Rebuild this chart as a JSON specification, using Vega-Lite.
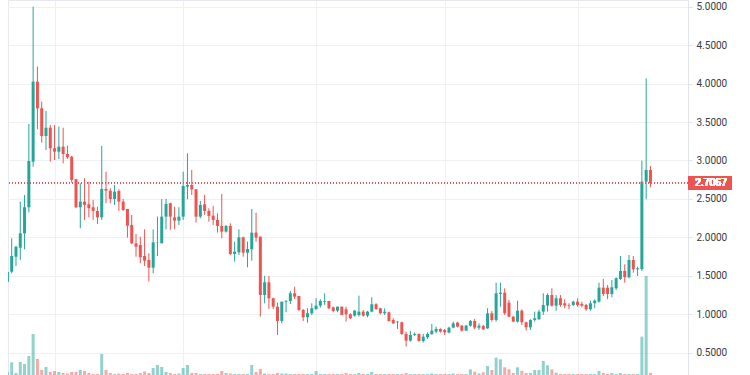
{
  "$schema": "https://vega.github.io/schema/vega-lite/v6.json",
  "width": 680,
  "height": 375,
  "autosize": "none",
  "padding": {"left": 8, "top": 0, "right": 62, "bottom": 0},
  "background": "#ffffff",
  "config": {
    "view": {"stroke": "#e6e9ef"},
    "axis": {"gridColor": "#eef0f4", "gridWidth": 1},
    "scale": {"continuousPadding": 0}
  },
  "datasets": {
    "ohlc": [
      {"d":"2021-03-21","o":1.42,"h":1.56,"l":1.38,"c":1.55,"v":300},
      {"d":"2021-03-22","o":1.553,"h":1.987,"l":1.532,"c":1.757,"v":1270},
      {"d":"2021-03-23","o":1.748,"h":1.887,"l":1.627,"c":1.878,"v":200},
      {"d":"2021-03-24","o":1.865,"h":2.464,"l":1.705,"c":2.052,"v":1300},
      {"d":"2021-03-25","o":2.052,"h":2.551,"l":1.844,"c":2.391,"v":1100},
      {"d":"2021-03-26","o":2.391,"h":3.474,"l":2.325,"c":2.993,"v":1900},
      {"d":"2021-03-27","o":2.984,"h":5.0,"l":2.919,"c":4.025,"v":4100},
      {"d":"2021-03-28","o":4.025,"h":4.22,"l":3.405,"c":3.678,"v":1600},
      {"d":"2021-03-29","o":3.678,"h":3.764,"l":3.231,"c":3.318,"v":500},
      {"d":"2021-03-30","o":3.318,"h":3.643,"l":3.136,"c":3.426,"v":800},
      {"d":"2021-03-31","o":3.426,"h":3.461,"l":2.984,"c":3.158,"v":300},
      {"d":"2021-04-01","o":3.158,"h":3.461,"l":3.006,"c":3.114,"v":400},
      {"d":"2021-04-02","o":3.114,"h":3.439,"l":3.019,"c":3.179,"v":300},
      {"d":"2021-04-03","o":3.179,"h":3.426,"l":2.963,"c":3.084,"v":200},
      {"d":"2021-04-04","o":3.084,"h":3.192,"l":3.019,"c":3.041,"v":150},
      {"d":"2021-04-05","o":3.049,"h":3.06,"l":2.711,"c":2.746,"v":300},
      {"d":"2021-04-06","o":2.755,"h":2.76,"l":2.378,"c":2.391,"v":300},
      {"d":"2021-04-07","o":2.391,"h":2.703,"l":2.117,"c":2.464,"v":500},
      {"d":"2021-04-08","o":2.464,"h":2.768,"l":2.226,"c":2.421,"v":400},
      {"d":"2021-04-09","o":2.43,"h":2.724,"l":2.26,"c":2.378,"v":200},
      {"d":"2021-04-10","o":2.391,"h":2.486,"l":2.226,"c":2.343,"v":100},
      {"d":"2021-04-11","o":2.343,"h":2.399,"l":2.174,"c":2.26,"v":100},
      {"d":"2021-04-12","o":2.26,"h":3.188,"l":2.226,"c":2.629,"v":2100},
      {"d":"2021-04-13","o":2.629,"h":2.854,"l":2.443,"c":2.607,"v":500},
      {"d":"2021-04-14","o":2.607,"h":2.638,"l":2.443,"c":2.499,"v":200},
      {"d":"2021-04-15","o":2.499,"h":2.681,"l":2.421,"c":2.594,"v":100},
      {"d":"2021-04-16","o":2.603,"h":2.625,"l":2.343,"c":2.464,"v":150},
      {"d":"2021-04-17","o":2.464,"h":2.499,"l":2.343,"c":2.356,"v":100},
      {"d":"2021-04-18","o":2.369,"h":2.369,"l":1.996,"c":2.152,"v":200},
      {"d":"2021-04-19","o":2.161,"h":2.291,"l":1.913,"c":1.922,"v":100},
      {"d":"2021-04-20","o":1.922,"h":2.043,"l":1.748,"c":1.878,"v":100},
      {"d":"2021-04-21","o":1.9,"h":2.009,"l":1.662,"c":1.74,"v":200},
      {"d":"2021-04-22","o":1.757,"h":2.104,"l":1.627,"c":1.696,"v":350},
      {"d":"2021-04-23","o":1.705,"h":1.792,"l":1.424,"c":1.605,"v":200},
      {"d":"2021-04-24","o":1.605,"h":2.104,"l":1.532,"c":1.935,"v":700},
      {"d":"2021-04-25","o":1.931,"h":2.269,"l":1.757,"c":1.935,"v":1000},
      {"d":"2021-04-26","o":1.922,"h":2.499,"l":1.922,"c":2.269,"v":800},
      {"d":"2021-04-27","o":2.269,"h":2.499,"l":2.104,"c":2.434,"v":300},
      {"d":"2021-04-28","o":2.443,"h":2.451,"l":2.096,"c":2.269,"v":200},
      {"d":"2021-04-29","o":2.26,"h":2.399,"l":2.104,"c":2.217,"v":100},
      {"d":"2021-04-30","o":2.217,"h":2.391,"l":2.161,"c":2.269,"v":150},
      {"d":"2021-05-01","o":2.269,"h":2.854,"l":2.226,"c":2.668,"v":700},
      {"d":"2021-05-02","o":2.659,"h":3.093,"l":2.495,"c":2.681,"v":1000},
      {"d":"2021-05-03","o":2.681,"h":2.876,"l":2.551,"c":2.625,"v":200},
      {"d":"2021-05-04","o":2.625,"h":2.625,"l":2.191,"c":2.269,"v":200},
      {"d":"2021-05-05","o":2.269,"h":2.473,"l":2.247,"c":2.421,"v":100},
      {"d":"2021-05-06","o":2.43,"h":2.551,"l":2.291,"c":2.343,"v":100},
      {"d":"2021-05-07","o":2.343,"h":2.378,"l":2.204,"c":2.278,"v":100},
      {"d":"2021-05-08","o":2.282,"h":2.412,"l":2.161,"c":2.226,"v":100},
      {"d":"2021-05-09","o":2.226,"h":2.313,"l":2.061,"c":2.148,"v":100},
      {"d":"2021-05-10","o":2.148,"h":2.564,"l":1.987,"c":2.074,"v":400},
      {"d":"2021-05-11","o":2.074,"h":2.161,"l":2.061,"c":2.148,"v":200},
      {"d":"2021-05-12","o":2.148,"h":2.182,"l":1.77,"c":1.783,"v":150},
      {"d":"2021-05-13","o":1.783,"h":1.944,"l":1.683,"c":1.813,"v":100},
      {"d":"2021-05-14","o":1.805,"h":2.104,"l":1.77,"c":2.0,"v":100},
      {"d":"2021-05-15","o":2.0,"h":2.009,"l":1.748,"c":1.8,"v":100},
      {"d":"2021-05-16","o":1.8,"h":1.944,"l":1.61,"c":1.848,"v":100},
      {"d":"2021-05-17","o":1.844,"h":2.369,"l":1.696,"c":2.061,"v":1000},
      {"d":"2021-05-18","o":2.061,"h":2.321,"l":1.944,"c":1.996,"v":300},
      {"d":"2021-05-19","o":2.009,"h":2.009,"l":0.968,"c":1.25,"v":600},
      {"d":"2021-05-20","o":1.25,"h":1.497,"l":1.142,"c":1.415,"v":150},
      {"d":"2021-05-21","o":1.415,"h":1.497,"l":1.068,"c":1.207,"v":100},
      {"d":"2021-05-22","o":1.207,"h":1.215,"l":1.068,"c":1.098,"v":100},
      {"d":"2021-05-23","o":1.098,"h":1.15,"l":0.73,"c":0.912,"v":200},
      {"d":"2021-05-24","o":0.912,"h":1.163,"l":0.881,"c":1.163,"v":150},
      {"d":"2021-05-25","o":1.163,"h":1.185,"l":1.025,"c":1.172,"v":150},
      {"d":"2021-05-26","o":1.172,"h":1.302,"l":1.133,"c":1.272,"v":100},
      {"d":"2021-05-27","o":1.272,"h":1.358,"l":1.198,"c":1.228,"v":100},
      {"d":"2021-05-28","o":1.237,"h":1.237,"l":1.042,"c":1.055,"v":100},
      {"d":"2021-05-29","o":1.055,"h":1.068,"l":0.912,"c":0.96,"v":100},
      {"d":"2021-05-30","o":0.96,"h":1.077,"l":0.89,"c":1.012,"v":100},
      {"d":"2021-05-31","o":1.012,"h":1.142,"l":0.99,"c":1.077,"v":100},
      {"d":"2021-06-01","o":1.068,"h":1.207,"l":1.055,"c":1.111,"v":400},
      {"d":"2021-06-02","o":1.111,"h":1.194,"l":1.085,"c":1.172,"v":100},
      {"d":"2021-06-03","o":1.163,"h":1.272,"l":1.12,"c":1.172,"v":100},
      {"d":"2021-06-04","o":1.172,"h":1.172,"l":1.064,"c":1.077,"v":100},
      {"d":"2021-06-05","o":1.09,"h":1.098,"l":1.025,"c":1.042,"v":100},
      {"d":"2021-06-06","o":1.046,"h":1.098,"l":1.025,"c":1.098,"v":100},
      {"d":"2021-06-07","o":1.098,"h":1.098,"l":0.99,"c":0.99,"v":100},
      {"d":"2021-06-08","o":1.064,"h":1.098,"l":0.903,"c":0.999,"v":200},
      {"d":"2021-06-09","o":0.999,"h":1.012,"l":0.934,"c":0.947,"v":100},
      {"d":"2021-06-10","o":0.981,"h":1.055,"l":0.968,"c":1.046,"v":100},
      {"d":"2021-06-11","o":0.99,"h":1.241,"l":0.968,"c":1.033,"v":200},
      {"d":"2021-06-12","o":1.033,"h":1.055,"l":0.968,"c":0.981,"v":100},
      {"d":"2021-06-13","o":0.981,"h":1.042,"l":0.96,"c":1.033,"v":100},
      {"d":"2021-06-14","o":1.033,"h":1.22,"l":1.025,"c":1.129,"v":300},
      {"d":"2021-06-15","o":1.129,"h":1.142,"l":1.055,"c":1.068,"v":100},
      {"d":"2021-06-16","o":1.077,"h":1.085,"l":0.999,"c":1.012,"v":100},
      {"d":"2021-06-17","o":1.012,"h":1.077,"l":0.99,"c":1.033,"v":100},
      {"d":"2021-06-18","o":1.025,"h":1.033,"l":0.903,"c":0.912,"v":100},
      {"d":"2021-06-19","o":0.925,"h":0.947,"l":0.873,"c":0.881,"v":100},
      {"d":"2021-06-20","o":0.895,"h":0.912,"l":0.808,"c":0.903,"v":100},
      {"d":"2021-06-21","o":0.895,"h":0.903,"l":0.73,"c":0.743,"v":100},
      {"d":"2021-06-22","o":0.743,"h":0.773,"l":0.578,"c":0.656,"v":200},
      {"d":"2021-06-23","o":0.656,"h":0.782,"l":0.643,"c":0.73,"v":100},
      {"d":"2021-06-24","o":0.73,"h":0.764,"l":0.717,"c":0.743,"v":100},
      {"d":"2021-06-25","o":0.743,"h":0.751,"l":0.643,"c":0.651,"v":100},
      {"d":"2021-06-26","o":0.651,"h":0.743,"l":0.63,"c":0.708,"v":100},
      {"d":"2021-06-27","o":0.699,"h":0.764,"l":0.678,"c":0.743,"v":100},
      {"d":"2021-06-28","o":0.743,"h":0.873,"l":0.73,"c":0.786,"v":150},
      {"d":"2021-06-29","o":0.773,"h":0.838,"l":0.751,"c":0.808,"v":100},
      {"d":"2021-06-30","o":0.808,"h":0.816,"l":0.76,"c":0.773,"v":100},
      {"d":"2021-07-01","o":0.795,"h":0.808,"l":0.73,"c":0.764,"v":100},
      {"d":"2021-07-02","o":0.76,"h":0.838,"l":0.751,"c":0.825,"v":100},
      {"d":"2021-07-03","o":0.825,"h":0.903,"l":0.816,"c":0.881,"v":150},
      {"d":"2021-07-04","o":0.89,"h":0.903,"l":0.829,"c":0.838,"v":100},
      {"d":"2021-07-05","o":0.851,"h":0.86,"l":0.773,"c":0.786,"v":100},
      {"d":"2021-07-06","o":0.786,"h":0.86,"l":0.782,"c":0.851,"v":100},
      {"d":"2021-07-07","o":0.851,"h":0.925,"l":0.838,"c":0.912,"v":570},
      {"d":"2021-07-08","o":0.912,"h":0.938,"l":0.803,"c":0.825,"v":330},
      {"d":"2021-07-09","o":0.825,"h":0.881,"l":0.795,"c":0.851,"v":150},
      {"d":"2021-07-10","o":0.847,"h":0.86,"l":0.795,"c":0.803,"v":270},
      {"d":"2021-07-11","o":0.816,"h":1.077,"l":0.808,"c":1.012,"v":900},
      {"d":"2021-07-12","o":1.012,"h":1.042,"l":0.903,"c":0.925,"v":500},
      {"d":"2021-07-13","o":0.925,"h":1.41,"l":0.903,"c":1.272,"v":1730},
      {"d":"2021-07-14","o":1.263,"h":1.41,"l":1.098,"c":1.28,"v":1570},
      {"d":"2021-07-15","o":1.28,"h":1.337,"l":0.99,"c":1.012,"v":770},
      {"d":"2021-07-16","o":1.15,"h":1.185,"l":0.96,"c":0.968,"v":570},
      {"d":"2021-07-17","o":0.968,"h":0.977,"l":0.895,"c":0.903,"v":200},
      {"d":"2021-07-18","o":0.903,"h":1.176,"l":0.89,"c":1.046,"v":770},
      {"d":"2021-07-19","o":1.046,"h":1.064,"l":0.86,"c":0.895,"v":430},
      {"d":"2021-07-20","o":0.895,"h":0.903,"l":0.786,"c":0.829,"v":200},
      {"d":"2021-07-21","o":0.829,"h":0.934,"l":0.795,"c":0.925,"v":200},
      {"d":"2021-07-22","o":0.925,"h":1.033,"l":0.903,"c":0.947,"v":500},
      {"d":"2021-07-23","o":0.934,"h":1.055,"l":0.925,"c":1.033,"v":500},
      {"d":"2021-07-24","o":1.033,"h":1.272,"l":0.99,"c":1.12,"v":1400},
      {"d":"2021-07-25","o":1.111,"h":1.272,"l":1.033,"c":1.25,"v":970},
      {"d":"2021-07-26","o":1.25,"h":1.337,"l":1.098,"c":1.111,"v":570},
      {"d":"2021-07-27","o":1.111,"h":1.25,"l":1.046,"c":1.207,"v":230},
      {"d":"2021-07-28","o":1.207,"h":1.25,"l":1.098,"c":1.12,"v":100},
      {"d":"2021-07-29","o":1.142,"h":1.194,"l":1.077,"c":1.111,"v":100},
      {"d":"2021-07-30","o":1.12,"h":1.142,"l":1.064,"c":1.111,"v":100},
      {"d":"2021-07-31","o":1.12,"h":1.176,"l":1.107,"c":1.163,"v":100},
      {"d":"2021-08-01","o":1.163,"h":1.207,"l":1.098,"c":1.12,"v":100},
      {"d":"2021-08-02","o":1.133,"h":1.163,"l":1.09,"c":1.111,"v":100},
      {"d":"2021-08-03","o":1.12,"h":1.133,"l":1.046,"c":1.064,"v":100},
      {"d":"2021-08-04","o":1.064,"h":1.176,"l":1.046,"c":1.142,"v":100},
      {"d":"2021-08-05","o":1.142,"h":1.194,"l":1.077,"c":1.176,"v":100},
      {"d":"2021-08-06","o":1.163,"h":1.41,"l":1.15,"c":1.345,"v":400},
      {"d":"2021-08-07","o":1.345,"h":1.458,"l":1.237,"c":1.263,"v":200},
      {"d":"2021-08-08","o":1.345,"h":1.38,"l":1.194,"c":1.263,"v":100},
      {"d":"2021-08-09","o":1.263,"h":1.445,"l":1.22,"c":1.35,"v":200},
      {"d":"2021-08-10","o":1.337,"h":1.48,"l":1.315,"c":1.467,"v":100},
      {"d":"2021-08-11","o":1.458,"h":1.757,"l":1.445,"c":1.562,"v":200},
      {"d":"2021-08-12","o":1.562,"h":1.649,"l":1.41,"c":1.48,"v":100},
      {"d":"2021-08-13","o":1.48,"h":1.77,"l":1.467,"c":1.705,"v":100},
      {"d":"2021-08-14","o":1.705,"h":1.757,"l":1.54,"c":1.584,"v":100},
      {"d":"2021-08-15","o":1.584,"h":1.618,"l":1.497,"c":1.597,"v":100},
      {"d":"2021-08-16","o":1.588,"h":2.997,"l":1.562,"c":2.724,"v":3830},
      {"d":"2021-08-17","o":2.724,"h":4.068,"l":2.495,"c":2.876,"v":9900},
      {"d":"2021-08-18","o":2.876,"h":2.928,"l":2.651,"c":2.7067,"v":200}
    ]
  },
  "data": {"name": "ohlc"},
  "layer": [
    {
      "mark": {"type": "bar", "size": 3, "clip": true, "opacity": 0.5},
      "encoding": {
        "x": {
          "field": "d", "type": "temporal",
          "scale": {
            "type": "utc", "padding": 0,
            "domain": [
              {"year": 2021, "month": 3, "date": 21, "hours": 3, "minutes": 17, "utc": true},
              {"year": 2021, "month": 8, "date": 26, "hours": 18, "minutes": 14, "utc": true}
            ]
          },
          "axis": {
            "title": null, "labels": false, "ticks": false, "domain": false, "grid": true,
            "values": [
              {"year": 2021, "month": 4, "date": 1, "utc": true},
              {"year": 2021, "month": 5, "date": 1, "utc": true},
              {"year": 2021, "month": 6, "date": 1, "utc": true},
              {"year": 2021, "month": 7, "date": 1, "utc": true},
              {"year": 2021, "month": 8, "date": 1, "utc": true}
            ]
          }
        },
        "y": {"field": "v", "type": "quantitative", "scale": {"domain": [0, 37500], "nice": false, "zero": true, "padding": 0}, "axis": null},
        "color": {"condition": {"test": "datum.c >= datum.o", "value": "#26a69a"}, "value": "#ef5350"}
      }
    },
    {
      "layer": [
        {
          "mark": {"type": "rule", "strokeWidth": 1, "clip": true},
          "encoding": {
            "x": {"field": "d", "type": "temporal"},
            "y": {
              "field": "l", "type": "quantitative",
              "scale": {"domain": [0.209, 5.087], "nice": false, "zero": false, "padding": 0},
              "axis": {
                "orient": "right", "title": null, "grid": true,
                "values": [0.5, 1.0, 1.5, 2.0, 2.5, 3.0, 3.5, 4.0, 4.5, 5.0],
                "format": ".4f", "domain": true, "domainColor": "#e0e3eb",
                "tickSize": 4, "tickColor": "#e0e3eb", "labelPadding": 4,
                "labelFont": "Roboto", "labelFontSize": 10, "labelColor": "#363a45"
              }
            },
            "y2": {"field": "h"},
            "color": {"condition": {"test": "datum.c >= datum.o", "value": "#26a69a"}, "value": "#ef5350"}
          }
        },
        {
          "mark": {"type": "bar", "size": 3, "clip": true},
          "encoding": {
            "x": {"field": "d", "type": "temporal"},
            "y": {"field": "o", "type": "quantitative"},
            "y2": {"field": "c"},
            "color": {"condition": {"test": "datum.c >= datum.o", "value": "#26a69a"}, "value": "#ef5350"}
          }
        },
        {
          "mark": {"type": "rule", "color": "#ef5350", "strokeDash": [1, 2], "strokeWidth": 1, "opacity": 0.6},
          "encoding": {"y": {"datum": 2.7067, "type": "quantitative"}}
        },
        {
          "mark": {"type": "bar", "size": 13, "color": "#ef5350", "clip": false},
          "encoding": {
            "x": {"datum": {"year": 2021, "month": 8, "date": 26, "hours": 18, "minutes": 14, "utc": true}, "type": "temporal"},
            "x2": {"datum": {"year": 2021, "month": 9, "date": 6, "hours": 0, "minutes": 30, "utc": true}},
            "y": {"datum": 2.7067, "type": "quantitative"}
          }
        },
        {
          "mark": {"type": "text", "color": "#ffffff", "font": "Liberation Sans", "fontSize": 10.5, "align": "center", "baseline": "middle", "clip": false},
          "encoding": {
            "x": {"datum": {"year": 2021, "month": 9, "date": 1, "hours": 3, "utc": true}, "type": "temporal"},
            "y": {"datum": 2.7067, "type": "quantitative"},
            "text": {"value": "2.7067"}
          }
        }
      ]
    }
  ],
  "resolve": {"scale": {"y": "independent"}}
}
